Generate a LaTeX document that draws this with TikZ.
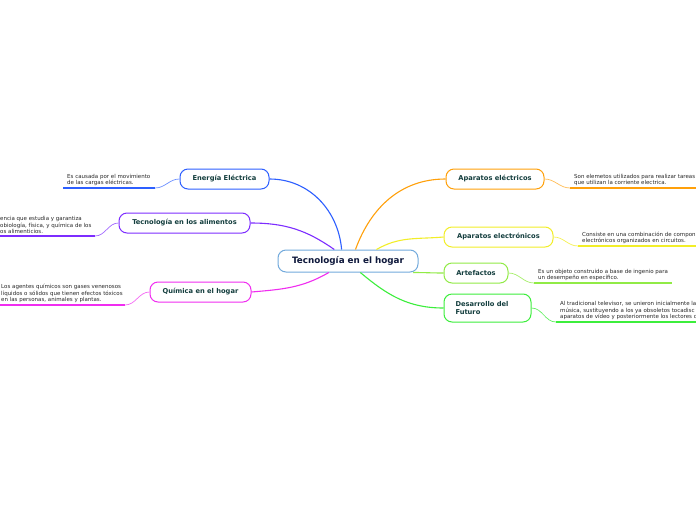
\documentclass[tikz,border=0pt]{standalone}
\usepackage{fontspec}
\setmainfont{DejaVu Sans}
\usepackage{xcolor}
\usepackage{tikz}
\usetikzlibrary{positioning}
\definecolor{cblue}{RGB}{45,95,255}
\definecolor{cpurple}{RGB}{125,45,255}
\definecolor{cmagenta}{RGB}{240,45,240}
\definecolor{corange}{RGB}{255,160,10}
\definecolor{cyellow}{RGB}{242,238,40}
\definecolor{clime}{RGB}{145,235,70}
\definecolor{cgreen}{RGB}{60,238,60}
\definecolor{ccenter}{RGB}{115,170,220}
\definecolor{topictext}{RGB}{20,62,62}
\definecolor{maintext}{RGB}{15,25,60}
\definecolor{leaftext}{RGB}{40,40,40}
\tikzstyle{topic} = [rounded corners=8pt, line width=1pt, fill=white, minimum height=20pt, inner sep=2pt, text=topictext, font=\fontsize{6.7pt}{8pt}\selectfont\bfseries]
\tikzstyle{leaf} = [anchor=south west, inner xsep=4pt, inner ysep=2pt, align=left, text=leaftext, font=\fontsize{5.5pt}{6.6pt}\selectfont]
\tikzstyle{branch} = [line width=1.1pt]
\tikzstyle{twig} = [line width=0.7pt]
\tikzstyle{underline} = [line width=1.8pt]

\begin{document}
\begin{tikzpicture}[x=1pt,y=-1pt]
\useasboundingbox (0,0) rectangle (696,520);
\fill[white] (0,0) rectangle (696,520);
\clip (0,0) rectangle (696,520);

\node[
rounded corners=8pt,
draw=ccenter,
fill=white,
line width=1pt,
minimum width=140pt,
minimum height=22pt,
text=maintext,
font=\fontsize{8.8pt}{10pt}\selectfont\bfseries
] (hogar) at (348,261) {Tecnología en el hogar};

% left side
\node[topic, draw=cblue, minimum width=89pt] (energia) at (224.5,179) {Energía Eléctrica};
\node[topic, draw=cpurple, minimum width=131pt] (alimentos) at (184.5,223) {Tecnología en los alimentos};
\node[topic, draw=cmagenta, minimum width=101pt] (quimica) at (200.5,292) {Química en el hogar};

% right side
\node[topic, draw=corange, minimum width=98pt] (electricos) at (495,179) {Aparatos eléctricos};
\node[topic, draw=cyellow, minimum width=109pt] (electronicos) at (498.5,237) {Aparatos electrónicos};
\node[topic, draw=clime, minimum width=64pt] (artefactos) at (476,273) {Artefactos};
\node[topic, draw=cgreen, minimum width=87pt, minimum height=28pt, text width=64pt, align=left] (futuro) at (487.5,308) {Desarrollo del\\Futuro};

\draw[branch, cblue] (hogar.119) to[out=95, in=0] (energia.east);
\draw[branch, cpurple] (hogar.140) to[out=145, in=0] (alimentos.east);
\draw[branch, cmagenta] (hogar.211) to[out=210, in=5] (quimica.east);
\draw[branch, corange] (hogar.57) to[out=70, in=180] (electricos.west);
\draw[branch, cyellow] (hogar.22) to[out=30, in=185] (electronicos.west);
\draw[branch, clime] (hogar.350) to[out=0, in=180] (artefactos.west);
\draw[branch, cgreen] (hogar.317) to[out=-40, in=180] (futuro.west);

% descriptions
\node[leaf] (energiatext) at (63,188) {Es causada por el movimiento\\de las cargas eléctricas.};
\node[leaf] (alimentostext) at (-4,236) {encia que estudia y garantiza\\obiología, física, y química de los\\os alimenticios.};
\node[leaf] (quimicatext) at (-3,305) {Los agentes químicos son gases venenosos\\líquidos o sólidos que tienen efectos tóxicos\\en las personas, animales y plantas.};
\node[leaf] (electricostext) at (570,188) {Son elemetos utilizados para realizar tareas\\que utilizan la corriente electrica.};
\node[leaf] (electronicostext) at (578,246) {Consiste en una combinación de compon\\electrónicos organizados en circuitos.};
\node[leaf] (artefactostext) at (534,283) {Es un objeto construido a base de ingenio para\\un desempeño en específico.};
\node[leaf] (futurotext) at (556,322) {Al tradicional televisor, se unieron inicialmente la\\música, sustituyendo a los ya obsoletos tocadisc\\aparatos de vídeo y posteriormente los lectores d};

% underline ends
\coordinate (energiaend) at (155,188);
\coordinate (alimentosend) at (95,236);
\coordinate (quimicaend) at (125,305);
\coordinate (electricosend) at (700,188);
\coordinate (electronicosend) at (700,246);
\coordinate (artefactosend) at (672,283);
\coordinate (futuroend) at (700,322);

\draw[twig, cblue!70] (energia.west) to[out=180, in=0] (energiaend);
\draw[underline, cblue] (energiaend) -- (energiatext.south west);
\draw[twig, cpurple!70] (alimentos.west) to[out=180, in=0] (alimentosend);
\draw[underline, cpurple] (alimentosend) -- (alimentostext.south west);
\draw[twig, cmagenta!70] (quimica.west) to[out=180, in=0] (quimicaend);
\draw[underline, cmagenta] (quimicaend) -- (quimicatext.south west);
\draw[twig, corange!70] (electricos.east) to[out=0, in=180] (electricostext.south west);
\draw[underline, corange] (electricostext.south west) -- (electricosend);
\draw[twig, cyellow!80] (electronicos.east) to[out=0, in=180] (electronicostext.south west);
\draw[underline, cyellow] (electronicostext.south west) -- (electronicosend);
\draw[twig, clime!80] (artefactos.east) to[out=0, in=180] (artefactostext.south west);
\draw[underline, clime] (artefactostext.south west) -- (artefactosend);
\draw[twig, cgreen!80] (futuro.east) to[out=0, in=180] (futurotext.south west);
\draw[underline, cgreen] (futurotext.south west) -- (futuroend);
\end{tikzpicture}
\end{document}
